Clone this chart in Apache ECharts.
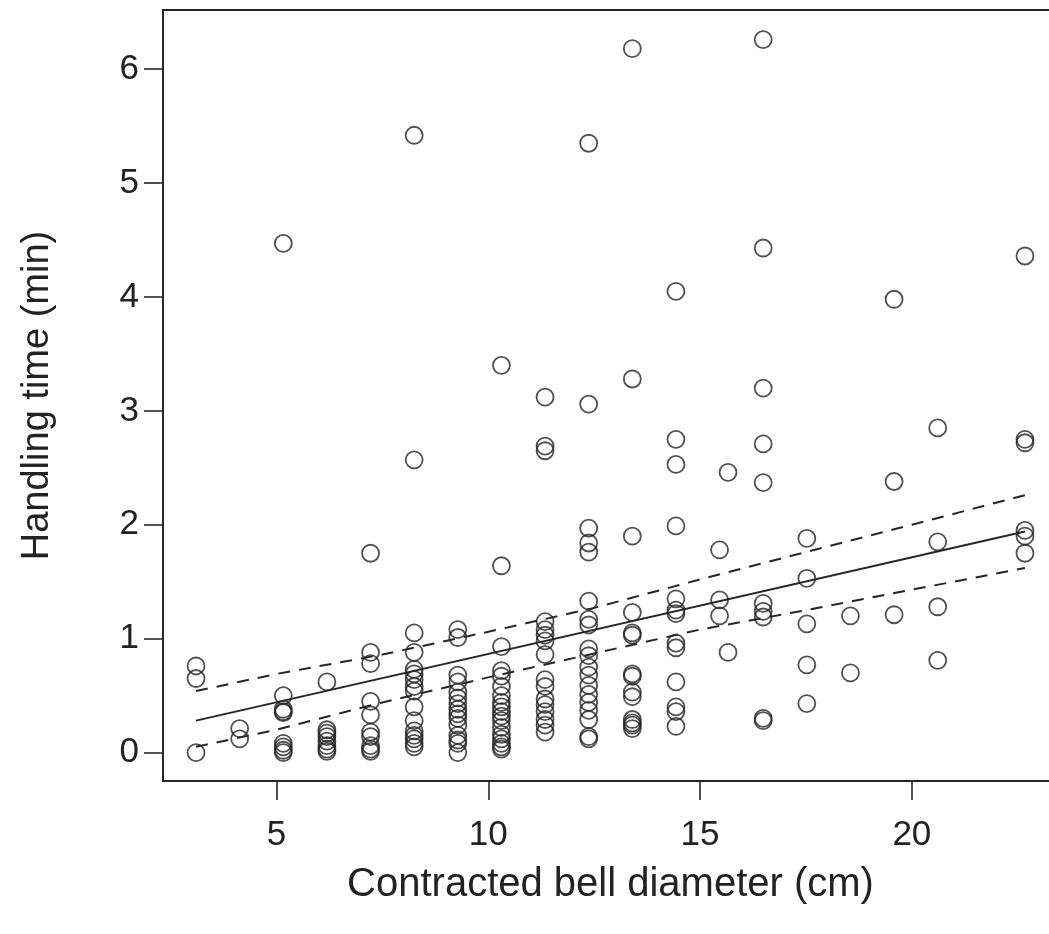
<!DOCTYPE html>
<html>
<head>
<meta charset="utf-8">
<script src="https://cdn.jsdelivr.net/npm/echarts@6/dist/echarts.min.js"></script>
<style>
  html, body { margin: 0; padding: 0; background: #fff; overflow: hidden; }
  #chart { width: 1070px; height: 934px; }
</style>
</head>
<body>
<div id="chart"></div>
<script>
// bell diameter columns (cm) and the handling times measured at each
var diameters = [3.10, 4.13, 5.16, 6.19, 7.22, 8.25, 9.28, 10.31, 11.34, 12.37,
  13.40, 14.43, 15.46, 15.66, 16.49, 17.52, 18.55, 19.58, 20.61, 22.67];
var handlingTimes = [
  [0.76, 0.65, 0.0],
  [0.21, 0.12],
  [4.47, 0.50, 0.38, 0.36, 0.35, 0.08, 0.05, 0.02, 0.0],
  [0.62, 0.20, 0.17, 0.14, 0.10, 0.06, 0.03, 0.01],
  [1.75, 0.88, 0.78, 0.45, 0.33, 0.18, 0.14, 0.06, 0.03, 0.01],
  [5.42, 2.57, 1.05, 0.88, 0.73, 0.69, 0.64, 0.58, 0.54, 0.40, 0.28, 0.19, 0.15, 0.12, 0.08, 0.05],
  [1.08, 1.01, 0.68, 0.62, 0.53, 0.48, 0.43, 0.38, 0.34, 0.30, 0.24, 0.15, 0.11, 0.08, 0.0],
  [3.40, 1.64, 0.93, 0.72, 0.67, 0.58, 0.50, 0.44, 0.40, 0.36, 0.32, 0.28, 0.22, 0.16, 0.12, 0.08, 0.05, 0.03],
  [3.12, 2.69, 2.65, 1.15, 1.08, 1.03, 0.98, 0.86, 0.64, 0.58, 0.47, 0.42, 0.36, 0.29, 0.24, 0.18],
  [5.35, 3.06, 1.97, 1.84, 1.76, 1.33, 1.17, 1.12, 0.91, 0.85, 0.75, 0.68, 0.59, 0.51, 0.44, 0.37, 0.29, 0.14, 0.12],
  [6.18, 3.28, 1.90, 1.23, 1.05, 1.03, 0.69, 0.67, 0.53, 0.49, 0.29, 0.26, 0.24, 0.21],
  [4.05, 2.75, 2.53, 1.99, 1.35, 1.25, 1.22, 0.96, 0.92, 0.62, 0.40, 0.36, 0.23],
  [1.78, 1.34, 1.20],
  [2.46, 0.88],
  [6.26, 4.43, 3.20, 2.71, 2.37, 1.31, 1.24, 1.19, 0.30, 0.28],
  [1.88, 1.53, 1.13, 0.77, 0.43],
  [1.20, 0.70],
  [3.98, 2.38, 1.21],
  [2.85, 1.85, 1.28, 0.81],
  [4.36, 2.75, 2.72, 1.95, 1.90, 1.75]
];

// fitted line and its confidence band
var fitX = [3.10, 22.67];
var fitY = [0.28, 1.94];
var bandX = [3.10, 5, 7.5, 10, 12.5, 15, 17.5, 20, 22.67];
var bandUpper = [0.54, 0.69, 0.86, 1.06, 1.27, 1.52, 1.76, 2.00, 2.26];
var bandLower = [0.05, 0.20, 0.44, 0.66, 0.87, 1.08, 1.25, 1.43, 1.62];

var xTicks = [5, 10, 15, 20];
var yTicks = [0, 1, 2, 3, 4, 5, 6];

function pairs(xs, ys) {
  var out = [];
  for (var i = 0; i < xs.length; i++) out.push([xs[i], ys[i]]);
  return out;
}

var points = [];
for (var i = 0; i < diameters.length; i++) {
  for (var j = 0; j < handlingTimes[i].length; j++) {
    points.push([diameters[i], handlingTimes[i][j]]);
  }
}

var ink = '#262626';
var font = "'Liberation Sans', Arial, Helvetica, sans-serif";

var chart = echarts.init(document.getElementById('chart'), null, { renderer: 'canvas' });
chart.setOption({
  animation: false,
  backgroundColor: '#fff',
  grid: {
    left: 163, top: 10, width: 895, height: 771,
    show: true, borderColor: ink, borderWidth: 2, backgroundColor: 'transparent'
  },
  xAxis: {
    type: 'value', min: 2.32, max: 23.45,
    name: 'Contracted bell diameter (cm)',
    nameLocation: 'middle', nameGap: 84,
    nameTextStyle: { fontFamily: font, fontSize: 40, color: '#222' },
    axisLine: { show: false, onZero: false },
    splitLine: { show: false },
    axisTick: { show: true, inside: false, length: 19, customValues: xTicks,
      lineStyle: { color: ink, width: 1.6 } },
    axisLabel: { customValues: xTicks, margin: 37, fontFamily: font, fontSize: 35, color: '#222' }
  },
  yAxis: {
    type: 'value', min: -0.25, max: 6.52,
    name: 'Handling time (min)',
    nameLocation: 'middle', nameGap: 106, nameRotate: 90,
    nameTextStyle: { fontFamily: font, fontSize: 38, color: '#222' },
    axisLine: { show: false, onZero: false },
    splitLine: { show: false },
    axisTick: { show: true, length: 19, customValues: yTicks,
      lineStyle: { color: ink, width: 1.6 } },
    axisLabel: { customValues: yTicks, margin: 24, fontFamily: font, fontSize: 35, color: '#222' }
  },
  series: [
    {
      type: 'scatter',
      data: points,
      symbol: 'circle',
      symbolSize: 17,
      itemStyle: { color: 'rgba(0,0,0,0)', borderColor: ink, borderWidth: 1.8 },
      silent: true
    },
    {
      type: 'line', data: pairs(fitX, fitY), showSymbol: false, silent: true,
      lineStyle: { color: ink, width: 2, type: 'solid' }
    },
    {
      type: 'line', data: pairs(bandX, bandUpper), showSymbol: false, silent: true,
      lineStyle: { color: ink, width: 2, type: [12, 9] }
    },
    {
      type: 'line', data: pairs(bandX, bandLower), showSymbol: false, silent: true,
      lineStyle: { color: ink, width: 2, type: [12, 9] }
    }
  ]
});
</script>
</body>
</html>
